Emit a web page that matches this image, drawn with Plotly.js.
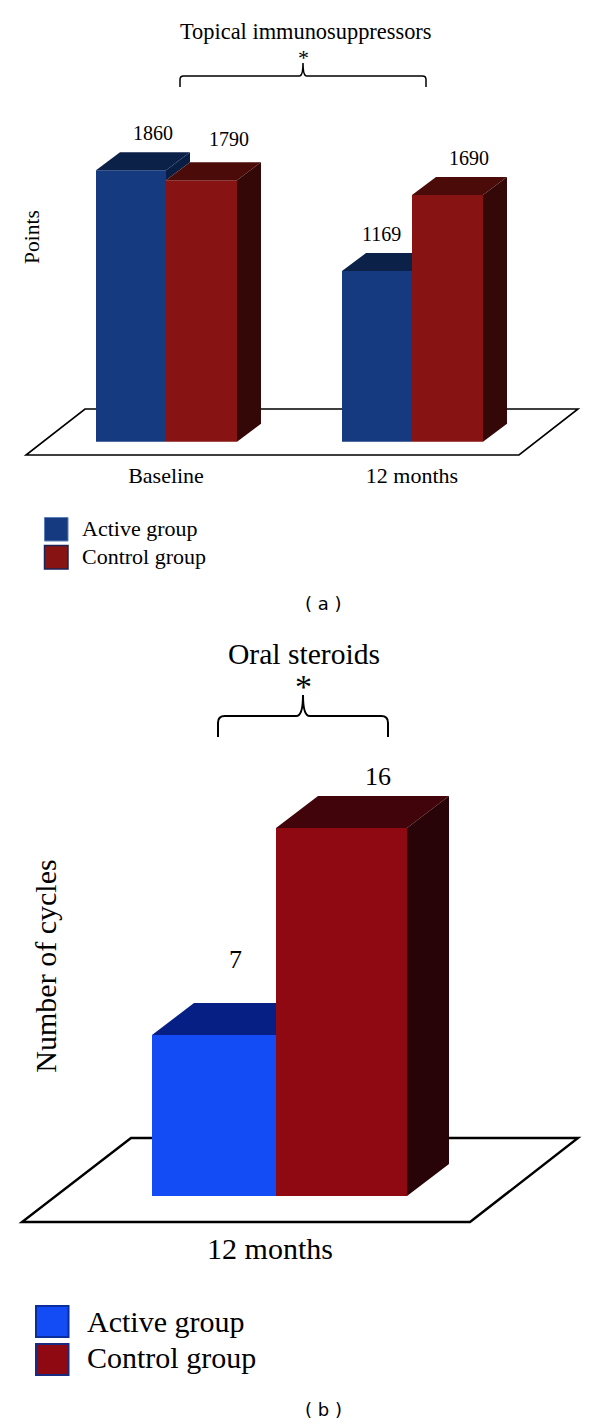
<!DOCTYPE html>
<html>
<head>
<meta charset="utf-8">
<script src="https://cdn.plot.ly/plotly-3.0.1.min.js"></script>
<style>html,body{margin:0;padding:0;background:#fff}</style>
</head>
<body>
<div id="chart" style="width:600px;height:1425px"></div>
<script>
// ---- data ----
var seriesNames = ['Active group', 'Control group'];
var groupsA = ['Baseline', '12 months'];
var activeA = [1860, 1169];
var controlA = [1790, 1690];
var groupsB = ['12 months'];
var activeB = [7];
var controlB = [16];

// ---- styling / geometry (pixels of the page) ----
var W = 600, H = 1425, SERIF = '"Liberation Serif", serif';
function px(x) { return x / W; }
function py(y) { return 1 - y / H; }

var A = {
  xa: 'x', ya: 'y', groups: groupsA, active: activeA, control: controlA,
  center: 166, unit: 246, base: 441.7, scale: 0.146, top: 14, bottom: 460,
  wActive: 70, wControl: 71, dx: 24, dy: 18,
  colors: {active: ['#153a80', '#0c2148', '#0a1e45'], control: ['#871412', '#4a0b09', '#330807']},
  floor: [[26, 455], [519, 455], [578, 409], [85, 409]], floorWidth: 1.6,
  labelFont: 20, labelShift: {active: [[-2, 19], [-20, 19]], control: [[3, 23], [-3, 19]]}
};
var B = {
  xa: 'x2', ya: 'y2', groups: groupsB, active: activeB, control: controlB,
  center: 276, unit: 255, base: 1196, scale: 23, top: 704, bottom: 1228,
  wActive: 124, wControl: 131, dx: 42, dy: 32,
  colors: {active: ['#134cf5', '#051f85', '#051f85'], control: ['#8e0912', '#41040b', '#280307']},
  floor: [[22, 1222], [470, 1222], [578, 1138], [131, 1138]], floorWidth: 2.4,
  labelFont: 26, labelShift: {active: [[-21, 44]], control: [[-6, 20]]}
};

var traces = [], shapes = [], annotations = [];

function poly(P, pts, color, name) {
  traces.push({
    type: 'scatter', mode: 'lines', xaxis: P.xa, yaxis: P.ya, name: name,
    x: pts.map(function (p) { return p[0]; }).concat(pts[0][0]),
    y: pts.map(function (p) { return p[1]; }).concat(pts[0][1]),
    fill: 'toself', fillcolor: color, line: {width: 0, color: color},
    hoverinfo: 'skip', showlegend: false
  });
}

function build(P) {
  var wa = P.wActive / P.unit, wc = P.wControl / P.unit;
  var dx = P.dx / P.unit, dy = P.dy / P.scale;
  var xs = P.groups.map(function (_, i) { return i; });
  traces.push({type: 'bar', xaxis: P.xa, yaxis: P.ya, name: seriesNames[0], x: xs, y: P.active,
    width: wa, offset: -wa, marker: {color: P.colors.active[0], line: {width: 0}}, showlegend: false});
  traces.push({type: 'bar', xaxis: P.xa, yaxis: P.ya, name: seriesNames[1], x: xs, y: P.control,
    width: wc, offset: 0, marker: {color: P.colors.control[0], line: {width: 0}}, showlegend: false});

  xs.forEach(function (x, i) {
    var va = P.active[i], vc = P.control[i];
    var x0 = x - wa, x1 = x, x2 = x + wc;
    // active: top face, and the part of the side that rises above the neighbour
    var end = vc > va ? x1 : x1 + dx;
    poly(P, [[x0, va], [x0 + dx, va + dy], [end, va + dy], [x1, va]], P.colors.active[1], seriesNames[0] + ' top');
    if (va > vc) poly(P, [[x1, va], [x1 + dx, va + dy], [x1 + dx, vc + dy], [x1, vc]], P.colors.active[2], seriesNames[0] + ' side');
    // control: top and side faces
    poly(P, [[x1, vc], [x1 + dx, vc + dy], [x2 + dx, vc + dy], [x2, vc]], P.colors.control[1], seriesNames[1] + ' top');
    poly(P, [[x2, vc], [x2 + dx, vc + dy], [x2 + dx, dy], [x2, 0]], P.colors.control[2], seriesNames[1] + ' side');
    // value labels above the back edge of each top face
    annotations.push({xref: P.xa, yref: P.ya, x: x0 + wa / 2 + dx, y: va + dy, text: String(va), showarrow: false,
      xshift: P.labelShift.active[i][0], yshift: P.labelShift.active[i][1],
      font: {family: SERIF, size: P.labelFont, color: '#000'}});
    annotations.push({xref: P.xa, yref: P.ya, x: x1 + wc / 2 + dx, y: vc + dy, text: String(vc), showarrow: false,
      xshift: P.labelShift.control[i][0], yshift: P.labelShift.control[i][1],
      font: {family: SERIF, size: P.labelFont, color: '#000'}});
  });

  // floor plate, placed through the axes
  var d = P.floor.map(function (p, i) {
    return (i ? 'L' : 'M') + ((p[0] - P.center) / P.unit) + ',' + ((P.base - p[1]) / P.scale);
  }).join(' ') + ' Z';
  shapes.push({type: 'path', xref: P.xa, yref: P.ya, path: d, layer: 'below',
    fillcolor: '#fff', line: {color: '#000', width: P.floorWidth}});
}
build(A);
build(B);

function axisX(P, size, anchor, shift) {
  return {
    domain: [0, 1], anchor: anchor,
    range: [(0 - P.center) / P.unit, (W - P.center) / P.unit],
    tickmode: 'array', tickvals: P.groups.map(function (_, i) { return i; }), ticktext: P.groups,
    ticks: '', showgrid: false, zeroline: false, showline: false, ticklabelshift: shift,
    tickfont: {family: SERIF, size: size, color: '#000'}, fixedrange: true
  };
}
function axisY(P, title, size, pos, standoff) {
  return {
    domain: [py(P.bottom), py(P.top)], anchor: 'free', position: pos,
    range: [(P.base - P.bottom) / P.scale, (P.base - P.top) / P.scale],
    showticklabels: false, ticks: '', showgrid: false, zeroline: false, showline: false, fixedrange: true,
    title: {text: title, standoff: standoff, font: {family: SERIF, size: size, color: '#000'}}
  };
}

function text(x, y, t, size, anchor, family) {
  annotations.push({xref: 'paper', yref: 'paper', x: px(x), y: py(y), text: t, showarrow: false,
    xanchor: anchor || 'center', yanchor: 'middle', font: {family: family || SERIF, size: size, color: '#000'}});
}
function brace(x0, x1, xm, yTip, yBar, yEnd, width) {
  var r = (yEnd - yBar) * 0.32;
  var P = function (x, y) { return px(x) + ',' + py(y); };
  shapes.push({type: 'path', xref: 'paper', yref: 'paper', layer: 'above', line: {color: '#000', width: width},
    path: 'M' + P(x0, yEnd) + ' L' + P(x0, yBar + r) + ' Q' + P(x0, yBar) + ' ' + P(x0 + r, yBar) +
      ' L' + P(xm - r, yBar) + ' Q' + P(xm, yBar) + ' ' + P(xm, yTip) +
      ' Q' + P(xm, yBar) + ' ' + P(xm + r, yBar) + ' L' + P(x1 - r, yBar) +
      ' Q' + P(x1, yBar) + ' ' + P(x1, yBar + r) + ' L' + P(x1, yEnd)});
}
function swatch(x0, y0, x1, y1, fill, edge, width) {
  shapes.push({type: 'rect', xref: 'paper', yref: 'paper', x0: px(x0), x1: px(x1), y0: py(y0), y1: py(y1),
    fillcolor: fill, line: {color: edge, width: width}});
}

// panel (a) decorations
text(305.5, 31.5, 'Topical immunosuppressors', 22.4);
text(303, 57.5, '*', 22);
brace(180, 426, 303, 63, 76, 87, 1.5);
swatch(44.5, 517.5, 68, 541, A.colors.active[0], '#5a7fb8', 1);
swatch(44.5, 545.5, 68, 569, A.colors.control[0], '#1a2458', 1.5);
text(79.5, 528, seriesNames[0], 22, 'left');
text(79.5, 556, seriesNames[1], 22, 'left');
text(323, 603, '( a )', 18, 'center', '"DejaVu Sans", sans-serif');

// panel (b) decorations
text(303.5, 654, 'Oral steroids', 29.6);
text(303, 686, '*', 34);
brace(218, 388, 303, 695, 716, 737, 2);
swatch(36, 1306, 68.5, 1337, B.colors.active[0], '#0a2f9c', 2);
swatch(36, 1344, 68.5, 1375, B.colors.control[0], '#1a2a80', 2);
text(85, 1321.5, seriesNames[0], 30, 'left');
text(85, 1357.5, seriesNames[1], 30, 'left');
text(323, 1409, '( b )', 18, 'center', '"DejaVu Sans", sans-serif');

var layout = {
  width: W, height: H, margin: {l: 0, r: 0, t: 0, b: 0},
  paper_bgcolor: '#fff', plot_bgcolor: 'rgba(0,0,0,0)',
  barmode: 'overlay', showlegend: false, hovermode: false,
  xaxis: axisX(A, 22, 'y', 0),
  yaxis: axisY(A, 'Points', 21.5, 0.085, 4),
  xaxis2: axisX(B, 30, 'y2', -6),
  yaxis2: axisY(B, 'Number of cycles', 30, 0.118, 4),
  shapes: shapes, annotations: annotations
};
Plotly.newPlot('chart', traces, layout, {displayModeBar: false, staticPlot: true});
</script>
</body>
</html>
